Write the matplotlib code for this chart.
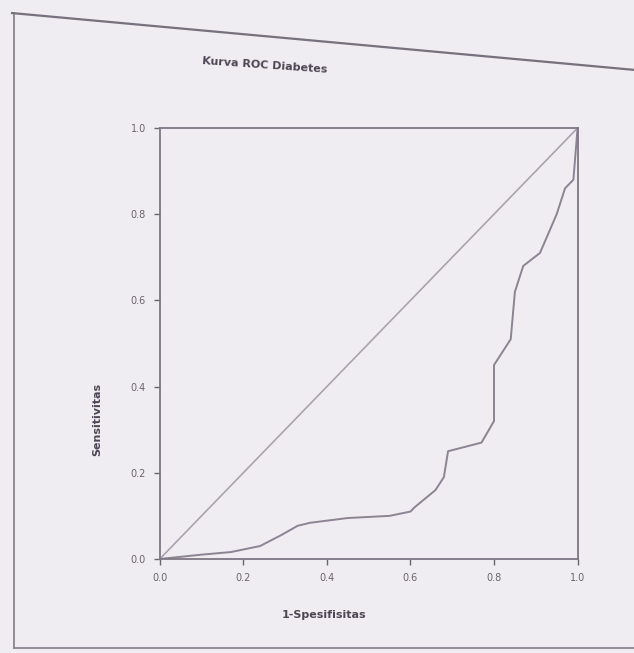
#!/usr/bin/env python
"""ROC curve for the diabetes model (SPSS-style printout)."""

import matplotlib

matplotlib.use("Agg")
import matplotlib.pyplot as plt
from matplotlib.lines import Line2D

# curve: 1-specificity vs sensitivity
fpr = [0.00, 0.05, 0.10, 0.17, 0.24, 0.29, 0.33, 0.36, 0.45, 0.55, 0.60,
       0.61, 0.66, 0.68, 0.69, 0.73, 0.77, 0.80, 0.80, 0.82, 0.84,
       0.85, 0.87, 0.91, 0.95, 0.97, 0.99, 1.00]
tpr = [0.00, 0.005, 0.01, 0.016, 0.03, 0.055, 0.077, 0.084, 0.095, 0.10, 0.11,
       0.12, 0.16, 0.19, 0.25, 0.26, 0.27, 0.32, 0.45, 0.48, 0.51,
       0.62, 0.68, 0.71, 0.80, 0.86, 0.88, 1.00]
ref_line = [0.0, 1.0]

tick_values = [0.0, 0.2, 0.4, 0.6, 0.8, 1.0]
tick_labels = ["0.0", "0.2", "0.4", "0.6", "0.8", "1.0"]

TITLE = "Kurva ROC Diabetes"
XLABEL = "1-Spesifisitas"
YLABEL = "Sensitivitas"

PAPER = "#efedf2"
INK = "#4d4654"
LINE = "#8c8393"


def main() -> None:
    fig = plt.figure(figsize=(6.34, 6.53), dpi=100, facecolor=PAPER)

    # outer frame of the printed chart box (photo is slightly keystoned)
    frame_kw = dict(color="#8a8490", lw=1.3, transform=fig.transFigure)
    fig.add_artist(Line2D([0.022, 0.022], [0.008, 0.980], **frame_kw))
    fig.add_artist(Line2D([0.022, 1.0], [0.008, 0.008], **frame_kw))
    fig.add_artist(Line2D([0.019, 1.0], [0.980, 0.893], color="#77707d", lw=1.6,
                          transform=fig.transFigure))

    ax = fig.add_axes([0.252, 0.144, 0.659, 0.660])
    ax.set_facecolor(PAPER)
    ax.plot(ref_line, ref_line, color="#aaa2b0", lw=1.2)
    ax.plot(fpr, tpr, color=LINE, lw=1.4)

    ax.set_xlim(0, 1)
    ax.set_ylim(0, 1)
    ax.set_xticks(tick_values)
    ax.set_xticklabels(tick_labels)
    ax.set_yticks(tick_values)
    ax.set_yticklabels(tick_labels)
    ax.tick_params(labelsize=7, colors="#6a6370", length=4, width=1.0,
                   direction="out", pad=6)
    for side in ax.spines.values():
        side.set_color("#7e7785")
        side.set_linewidth(1.3)

    fig.text(0.418, 0.900, TITLE, ha="center", va="center", fontsize=8,
             fontweight="bold", color=INK, rotation=-4)
    fig.text(0.511, 0.058, XLABEL, ha="center", va="center", fontsize=8,
             fontweight="bold", color=INK)
    fig.text(0.153, 0.357, YLABEL, ha="center", va="center", fontsize=8,
             fontweight="bold", color=INK, rotation=90)

    fig.savefig("out.png", dpi=100, facecolor=PAPER)
    plt.close(fig)


if __name__ == "__main__":
    main()
